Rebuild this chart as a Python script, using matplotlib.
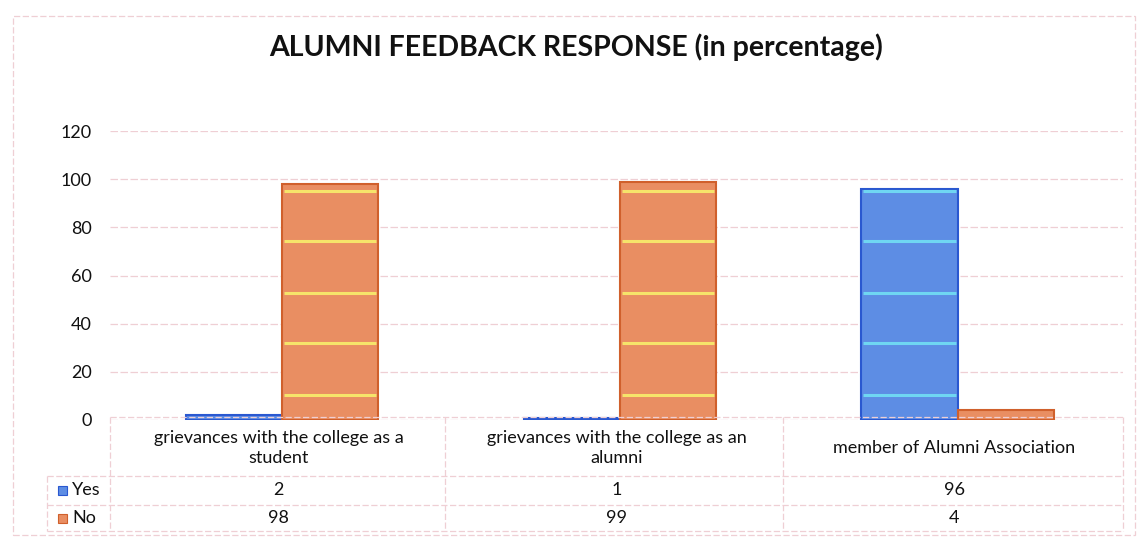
import matplotlib.pyplot as plt
from matplotlib.patches import Rectangle
import matplotlib.transforms as mtransforms
import numpy as np

plt.rcParams['font.family'] = ['Lato', 'DejaVu Sans']

categories = ["grievances with the college as a\nstudent",
              "grievances with the college as an\nalumni",
              "member of Alumni Association"]
yes = [2, 1, 96]
no = [98, 99, 4]
series = ["Yes", "No"]
yticks = [0, 20, 40, 60, 80, 100, 120]

blue, blue_edge = "#5d8de4", "#2a58d0"
orange, orange_edge = "#e98e62", "#d0602c"
grid_col = "#efcfd4"
txt = "#111111"
fs = 13

fig = plt.figure(figsize=(11.45, 5.37), dpi=100)
ax = fig.add_axes([110 / 1145, 1 - 420 / 537, 1013 / 1145, 289 / 537])

x = np.arange(len(categories))
w = 0.285
b1 = ax.bar(x - w / 2 + 0.01, yes, w, color=blue, edgecolor=blue_edge, linewidth=1.5, zorder=2)
b2 = ax.bar(x + w / 2 + 0.01, no, w, color=orange, edgecolor=orange_edge, linewidth=1.5, zorder=2)

# light streaks across the bars
for bars, c in [(b1, "#6fd6f2"), (b2, "#f6e46a")]:
    for p in bars:
        for lvl in [10.5, 31.8, 52.7, 74.2, 95.2]:
            if p.get_height() > lvl:
                ax.hlines(lvl, p.get_x() + 2 / 337, p.get_x() + p.get_width() - 2 / 337,
                          color=c, lw=2.2, zorder=3)

ax.set_xlim(-0.5, len(categories) - 0.5)
ax.set_ylim(0, 120)
ax.set_yticks(yticks)
ax.set_yticklabels([str(t) for t in yticks], fontsize=fs, color=txt)
ax.tick_params(axis="y", length=0, pad=13)
ax.set_xticks([])
ax.yaxis.grid(True, color=grid_col, lw=0.9, ls=(0, (6, 2)), zorder=0)
for s in ax.spines.values():
    s.set_visible(False)

# data table under the chart
tr = mtransforms.blended_transform_factory(ax.transData, fig.transFigure)
fy = lambda py: 1 - py / 537
lc = dict(color=grid_col, lw=0.9, ls=(0, (5, 2)), transform=fig.transFigure, clip_on=False)
row_ys = [417, 476, 505, 531]
for py in row_ys:
    x0 = 110 if py == 417 else 47
    fig.add_artist(plt.Line2D([x0 / 1145, 1123 / 1145], [fy(py), fy(py)], **lc))
for px in [110, 445, 783, 1123]:
    fig.add_artist(plt.Line2D([px / 1145, px / 1145], [fy(417), fy(531)], **lc))
fig.add_artist(plt.Line2D([47 / 1145, 47 / 1145], [fy(476), fy(531)], **lc))

for i, c in enumerate(categories):
    ax.text(i, fy(448), c, transform=tr, ha="center", va="center", fontsize=fs,
            color=txt, linespacing=1.3)
    ax.text(i, fy(490), str(yes[i]), transform=tr, ha="center", va="center", fontsize=fs, color=txt)
    ax.text(i, fy(518), str(no[i]), transform=tr, ha="center", va="center", fontsize=fs, color=txt)

for name, py, col, ec in [(series[0], 490, blue, blue_edge), (series[1], 518, orange, orange_edge)]:
    fig.add_artist(Rectangle((58 / 1145, fy(py + 4.5)), 9 / 1145, 9 / 537, facecolor=col,
                             edgecolor=ec, lw=0.8, transform=fig.transFigure))
    fig.text(72 / 1145, fy(py), name, ha="left", va="center", fontsize=fs, color=txt)

# outer chart border
fig.add_artist(Rectangle((13 / 1145, fy(535)), 1122 / 1145, 519 / 537, fill=False,
                         edgecolor=grid_col, lw=0.9, ls=(0, (5, 2)), transform=fig.transFigure))

fig.text(576 / 1145, fy(47), "ALUMNI FEEDBACK RESPONSE (in percentage)", ha="center", va="center",
         fontsize=20.5, fontweight="bold", color=txt)

fig.savefig("out.png", dpi=100)
